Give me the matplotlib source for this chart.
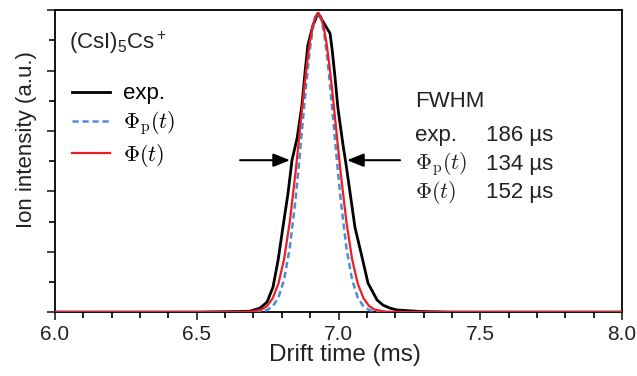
import matplotlib
matplotlib.use("Agg")
import matplotlib.pyplot as plt
from matplotlib.ticker import MultipleLocator

plt.rcParams['font.family'] = ['Liberation Sans', 'DejaVu Sans']
plt.rcParams['mathtext.fontset'] = 'custom'
plt.rcParams['mathtext.rm'] = 'Liberation Sans'
plt.rcParams['mathtext.it'] = 'Liberation Sans:italic'

# experimental drift time profile (normalised)
t_exp = [6.0, 6.511, 6.653, 6.688, 6.723, 6.748, 6.769, 6.787, 6.804, 6.822,
         6.836, 6.854, 6.871, 6.882, 6.892, 6.910, 6.928, 6.942, 6.963, 6.970,
         6.977, 6.988, 6.998, 7.016, 7.026, 7.041, 7.058, 7.083, 7.104, 7.136,
         7.157, 7.182, 7.206, 7.287, 7.393, 8.0]
i_exp = [0, 0, 0.002, 0.003, 0.013, 0.033, 0.083, 0.172, 0.281, 0.394,
         0.503, 0.576, 0.685, 0.795, 0.884, 0.950, 0.990, 0.967, 0.934, 0.924,
         0.874, 0.775, 0.675, 0.553, 0.493, 0.394, 0.281, 0.182, 0.096, 0.040,
         0.023, 0.013, 0.007, 0.002, 0, 0]

# model profiles
t_mod = [6.0, 6.628, 6.688, 6.728, 6.748, 6.768, 6.788, 6.808, 6.828, 6.848,
         6.858, 6.868, 6.878, 6.888, 6.898, 6.908, 6.918, 6.928, 6.938, 6.948,
         6.958, 6.968, 6.978, 6.988, 6.998, 7.008, 7.028, 7.048, 7.068, 7.088,
         7.108, 7.128, 7.168, 7.228, 8.0]
i_phi = [0, 0, 0.001, 0.008, 0.020, 0.046, 0.094, 0.175, 0.298, 0.459,
         0.549, 0.642, 0.733, 0.817, 0.889, 0.943, 0.978, 0.99, 0.978, 0.943,
         0.889, 0.817, 0.733, 0.642, 0.549, 0.459, 0.298, 0.175, 0.094, 0.046,
         0.020, 0.008, 0.001, 0, 0]
i_phip = [0, 0, 0.0, 0.002, 0.007, 0.019, 0.048, 0.107, 0.212, 0.369,
          0.465, 0.568, 0.673, 0.773, 0.862, 0.931, 0.975, 0.99, 0.975, 0.931,
          0.862, 0.773, 0.673, 0.568, 0.465, 0.369, 0.212, 0.107, 0.048, 0.019,
          0.007, 0.002, 0.0, 0, 0]

fwhm_labels = ['exp.', r'$\Phi_{\rm p}(t)$', r'$\Phi(t)$']
fwhm_values = ['186 µs', '134 µs', '152 µs']

fig = plt.figure(figsize=(6.37, 3.76), dpi=100)
ax = fig.add_axes([0.0863, 0.170, 0.8902, 0.803])

l1, = ax.plot(t_exp, i_exp, color='black', lw=2.0, label='exp.', zorder=3)
l2, = ax.plot(t_mod, i_phip, color='#4a8fd6', lw=1.8, ls=(0, (2.5, 1.5)),
              label=r'$\Phi_{\rm p}(t)$', zorder=4)
l3, = ax.plot(t_mod, i_phi, color='#ee1c25', lw=1.6, label=r'$\Phi(t)$', zorder=5)

ax.set_xlim(6.0, 8.0)
ax.set_ylim(0, 1.0)
ax.xaxis.set_major_locator(MultipleLocator(0.5))
ax.xaxis.set_minor_locator(MultipleLocator(0.1))
ax.yaxis.set_major_locator(MultipleLocator(0.2))
ax.yaxis.set_minor_locator(MultipleLocator(0.1))
ax.set_yticklabels([])
ax.tick_params(which='major', direction='out', length=6, width=1.2, labelsize=15, colors='#222222')
ax.tick_params(which='minor', direction='out', length=4, width=1.2)
for s in ax.spines.values():
    s.set_linewidth(1.3)

ax.set_xlabel('Drift time (ms)', fontsize=17.5, color='#222222')
ax.set_ylabel('Ion intensity (a.u.)', fontsize=16, color='#222222')
ax.xaxis.set_label_coords(0.511, -0.105)
ax.yaxis.set_label_coords(-0.032, 0.57)

ax.text(0.025, 0.935, r'(CsI)$_5$Cs$^+$', transform=ax.transAxes, fontsize=16,
        va='top', ha='left', color='#222222')

leg = ax.legend(handles=[l1, l2, l3], loc='upper left', bbox_to_anchor=(0.015, 0.787),
                frameon=False, fontsize=16, handlelength=1.7, handletextpad=0.6,
                labelspacing=0.22, borderaxespad=0)
for t in leg.get_texts()[1:]:
    t.set_math_fontfamily('cm')

# FWHM block
ax.text(0.635, 0.68, 'FWHM', transform=ax.transAxes, fontsize=16, color='#222222')
ys = [0.565, 0.472, 0.378]
for lab, val, y in zip(fwhm_labels, fwhm_values, ys):
    t = ax.text(0.635, y, lab, transform=ax.transAxes, fontsize=16, color='#222222')
    if lab.startswith('$'):
        t.set_math_fontfamily('cm')
    ax.text(0.760, y, val, transform=ax.transAxes, fontsize=16, color='#222222')

# half maximum arrows
arr = dict(arrowstyle='-|>,head_length=1.0,head_width=0.4', lw=1.5, color='black',
           shrinkA=0, shrinkB=0)
ax.annotate('', xy=(6.829, 0.503), xytext=(6.653, 0.503), arrowprops=arr)
ax.annotate('', xy=(7.030, 0.503), xytext=(7.217, 0.503), arrowprops=arr)

fig.savefig('out.png', dpi=100)
